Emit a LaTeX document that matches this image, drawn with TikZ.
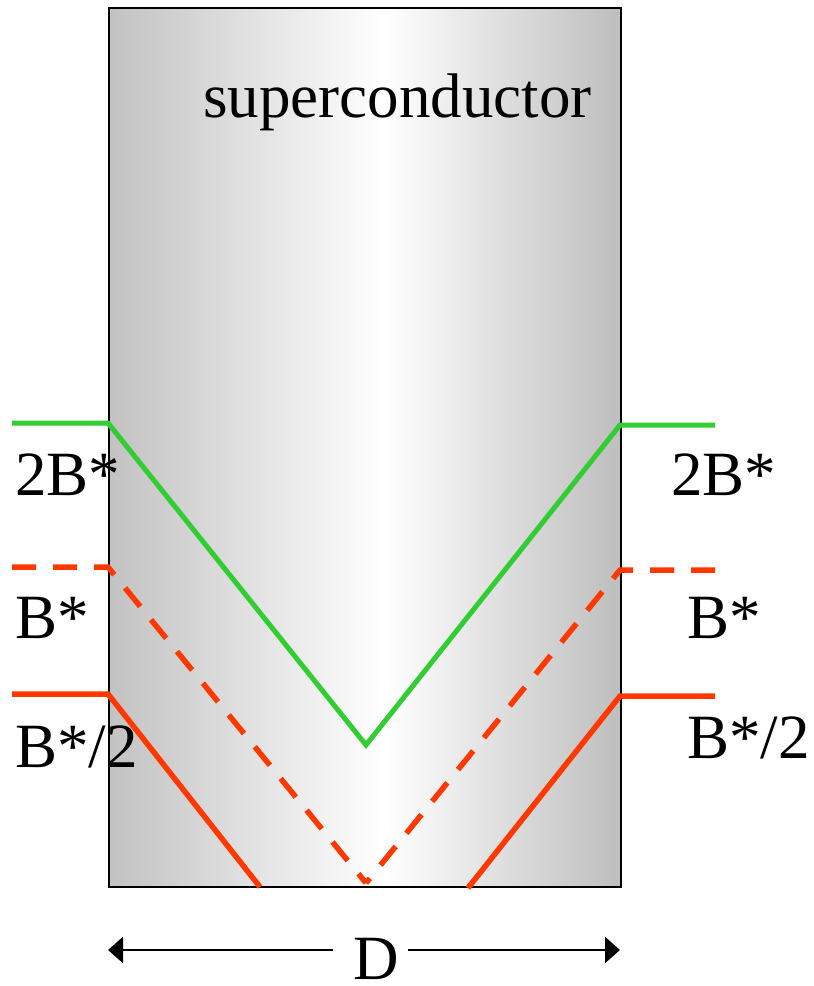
\documentclass[tikz,border=0pt]{standalone}
\usepackage{fontspec}
\setmainfont{Liberation Serif}
\usetikzlibrary{arrows.meta}
\definecolor{fieldgreen}{RGB}{50,205,50}
\definecolor{fieldred}{RGB}{255,56,0}
\definecolor{edgegrayL}{RGB}{194,194,194}
\definecolor{edgegrayR}{RGB}{190,190,190}
\pgfdeclarehorizontalshading{scshade}{100bp}{color(0bp)=(edgegrayL); color(25bp)=(edgegrayL); color(52bp)=(white); color(75bp)=(edgegrayR); color(100bp)=(edgegrayR)}
\begin{document}
\begin{tikzpicture}[x=1pt,y=-1pt,
  lbl/.style={anchor=base west, inner sep=0pt, font=\fontsize{63}{70}\selectfont},
  greenline/.style={draw=fieldgreen, line width=5pt},
  redline/.style={draw=fieldred, line width=5.5pt},
  reddash/.style={draw=fieldred, line width=5.5pt, dash pattern=on 24pt off 17pt},
  dimarrow/.style={draw=black, line width=2.2pt, -{Triangle[length=15pt,width=26pt]}}]
\useasboundingbox (0,0) rectangle (814,986);
% superconductor slab
\path[shading=scshade] (108,7) rectangle (620,886);
\node[draw=black, line width=2.4pt, minimum width=512pt, minimum height=879pt, inner sep=0pt, anchor=north west] (slab) at (108,7) {};
\node[lbl] (sc) at (203,117) {superconductor};
% coordinates
\coordinate (gL0) at (12,423);
\coordinate (gL1) at (108,423);
\coordinate (gV) at (366,745);
\coordinate (gR1) at (620,425);
\coordinate (gR0) at (715,425);
\coordinate (dL0) at (12,567);
\coordinate (dL1) at (108,567);
\coordinate (dV) at (366,883);
\coordinate (dR1) at (620,570);
\coordinate (dR0) at (715,570);
\coordinate (sL0) at (12,694);
\coordinate (sL1) at (108,694);
\coordinate (sL2) at (260,887);
\coordinate (sR2) at (468,888);
\coordinate (sR1) at (620,696);
\coordinate (sR0) at (715,696);
% field profiles
\draw[greenline] (gL0) -- (gL1) -- (gV) -- (gR1) -- (gR0);
\draw[reddash] (dL0) -- (dL1) -- (dV);
\draw[reddash] (dR0) -- (dR1) -- (dV);
\draw[redline] (sL0) -- (sL1) -- (sL2);
\draw[redline] (sR2) -- (sR1) -- (sR0);
% labels
\node[lbl] (l2b) at (15,495) {2B*};
\node[lbl] (lb) at (15,638) {B*};
\node[lbl] (lbh) at (15,767) {B*/2};
\node[lbl] (r2b) at (671,495) {2B*};
\node[lbl] (rb) at (687,638) {B*};
\node[lbl] (rbh) at (687,758) {B*/2};
% dimension
\node[lbl] (D) at (353,979) {D};
\coordinate (aLs) at (333,950);
\coordinate (aLe) at (108,950);
\coordinate (aRs) at (408,950);
\coordinate (aRe) at (620,950);
\draw[dimarrow] (aLs) -- (aLe);
\draw[dimarrow] (aRs) -- (aRe);
\end{tikzpicture}
\end{document}
